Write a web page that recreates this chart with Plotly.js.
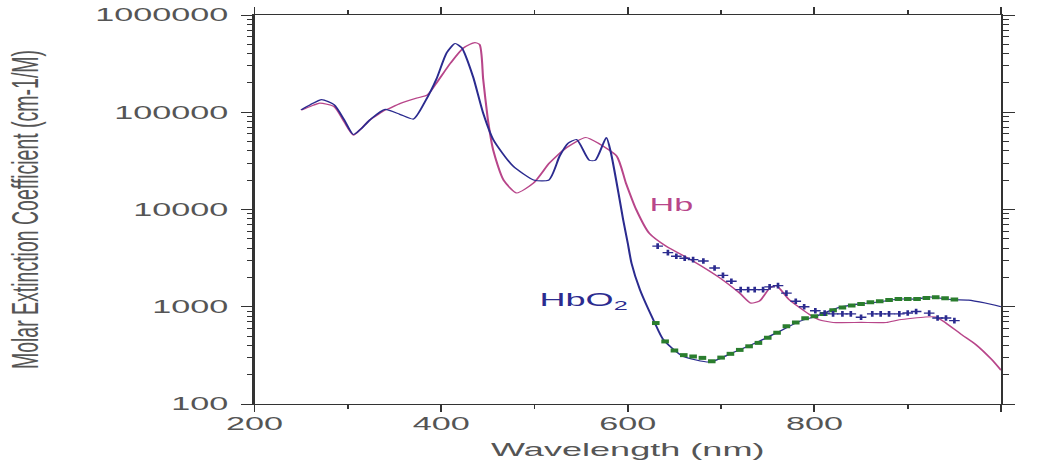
<!DOCTYPE html>
<html><head><meta charset="utf-8">
<script src="https://cdn.plot.ly/plotly-3.0.1.min.js"></script>
<style>
html,body{margin:0;padding:0;background:#fff;overflow:hidden;}
#wrap{width:1039px;height:460px;overflow:hidden;}
#chart{width:547px;height:460px;transform:scale(1.8995,1);transform-origin:0 0;}
</style></head><body><div id="wrap"><div id="chart"></div></div>
<script>
// Hb (deoxyhemoglobin) spectrum
const hbWl  = [250,260,270,285,296,306,313,324,340,345,356,374,385,395,410,424,436,441,445,450,456,467,481,499,516,534,555,570,588,598,609,623,641,670,698,720,732,741,752,759,773,795,805,820,850,877,891,919,930,941,958,973,990,1000];
const hbVal = [105000,115000,124000,115000,80000,58000,66000,84000,105000,110000,123000,140000,150000,200000,320000,460000,520000,500000,220000,85000,40000,20000,14800,18700,30000,43000,55000,47000,35500,18700,10000,5700,4200,2950,2000,1380,1090,1140,1550,1650,1180,830,736,690,690,690,736,785,785,680,515,408,286,222];
// HbO2 (oxyhemoglobin) spectrum
const hbo2Wl  = [250,260,272,285,296,306,313,324,340,356,370,383,395,406,415,422,434,445,456,477,500,515,527,536,545,559,565,577,582,590,595,600,604,613,629,638,659,688,712,737,759,784,801,826,848,869,891,909,924,941,951,965,983,1000];
const hbo2Val = [106000,120000,135000,120000,84000,59000,66000,84000,107000,95000,85000,130000,220000,410000,510000,460000,235000,98000,52000,28000,20000,20000,35500,48000,52500,32000,32000,55000,38000,14800,7900,4500,2800,1500,680,460,310,270,335,425,537,707,795,980,1070,1120,1200,1200,1260,1200,1180,1170,1090,1000];
// second HbO2 data set (green squares)
const gWl  = [630,640,650,660,670,680,690,700,710,720,730,740,750,760,770,780,790,800,810,820,830,840,850,860,870,880,890,900,910,920,930,940,950];
const gVal = [680,440,355,318,308,298,275,300,328,360,392,425,480,540,630,690,760,800,840,920,980,1030,1070,1110,1140,1170,1200,1200,1200,1230,1250,1220,1190];
// second Hb data set (crosses)
const pWl  = [632,643,652,661,670,681,693,702,711,721,729,736,745,752,761,770,780,789,801,811,820,830,839,850,862,871,880,891,900,909,923,932,941,950];
const pVal = [4200,3600,3300,3150,3050,2950,2500,2100,1830,1500,1500,1500,1500,1600,1650,1380,1140,1000,910,860,845,845,845,780,845,845,845,845,863,895,860,767,767,720];
// axis ticks
const xTickVals = [200,400,600,800,1000];
const xTickText = ['200','400','600','800','1000'];
const yTickVals = [100,1000,10000,100000,1000000];
const yTickText = ['100','1000','10000','100000','1000000'];

const yMinor = [];
for (let d = 2; d < 6; d++) for (let k = 2; k <= 9; k++) yMinor.push(k * Math.pow(10, d));

const FONT = 'Liberation Sans, Arial, sans-serif';
const AX = '#333333';
const TXT = '#555555';
const HBC = '#b8468a';
const HBO2C = '#2b2b8f';

const traces = [
  {x: hbWl, y: hbVal, mode: 'lines', line: {color: HBC, width: 1.1, shape: 'spline', smoothing: 0.6}, name: 'Hb'},
  {x: hbo2Wl, y: hbo2Val, mode: 'lines', line: {color: HBO2C, width: 1.1, shape: 'spline', smoothing: 0.6}, name: 'HbO2'},
  {x: gWl, y: gVal, mode: 'markers', marker: {symbol: 'square', size: 4, color: '#2a7d2e', line: {width: 0}}, name: 'HbO2 b'},
  {x: pWl, y: pVal, mode: 'markers', marker: {symbol: 'cross-thin', size: 4, color: HBO2C, line: {width: 1.4, color: HBO2C}}, name: 'Hb b'}
];

const layout = {
  width: 547, height: 460,
  margin: {l: 134, r: 19.5, t: 15, b: 55.5, pad: 0},
  paper_bgcolor: '#fff', plot_bgcolor: '#fff',
  showlegend: false,
  font: {family: FONT, color: TXT},
  xaxis: {
    range: [200, 1000], tickmode: 'array', tickvals: xTickVals, ticktext: xTickText,
    ticks: 'outside', ticklen: 7, tickwidth: 1, tickcolor: AX,
    showline: true, linecolor: AX, linewidth: 1.2, mirror: 'ticks',
    showgrid: false, zeroline: false, ticklabelstandoff: -4,
    tickfont: {family: FONT, size: 18, color: TXT},
    minor: {tickmode: 'array', tickvals: [300,500,700,900], ticks: 'outside', ticklen: 4, tickwidth: 1, tickcolor: AX, showgrid: false},
    title: {text: 'Wavelength (nm)', font: {family: FONT, size: 19, color: TXT}}
  },
  yaxis: {
    type: 'log', range: [2, 6], tickmode: 'array', tickvals: yTickVals, ticktext: yTickText,
    ticks: 'outside', ticklen: 6, tickwidth: 1, tickcolor: AX,
    showline: true, linecolor: AX, linewidth: 1.2, mirror: 'ticks',
    showgrid: false, zeroline: false, ticklabelstandoff: 3,
    tickfont: {family: FONT, size: 18, color: TXT},
    minor: {tickmode: 'array', tickvals: yMinor, ticks: 'outside', ticklen: 3, tickwidth: 1, tickcolor: AX, showgrid: false},
    title: {text: 'Molar Extinction Coefficient (cm-1/M)', standoff: 24, font: {family: FONT, size: 19.5, color: TXT}}
  },
  annotations: [
    {x: 646, y: Math.log10(11200), xref: 'x', yref: 'y', text: 'Hb', showarrow: false,
     font: {family: FONT, size: 18, color: HBC}, xanchor: 'center', yanchor: 'middle'},
    {x: 501, y: Math.log10(1150), xref: 'x', yref: 'y', text: 'HbO<sub>2</sub>', showarrow: false,
     font: {family: FONT, size: 19, color: HBO2C}, xanchor: 'left', yanchor: 'middle'}
  ]
};

Plotly.newPlot('chart', traces, layout, {staticPlot: true, displayModeBar: false});
</script>
</body></html>
